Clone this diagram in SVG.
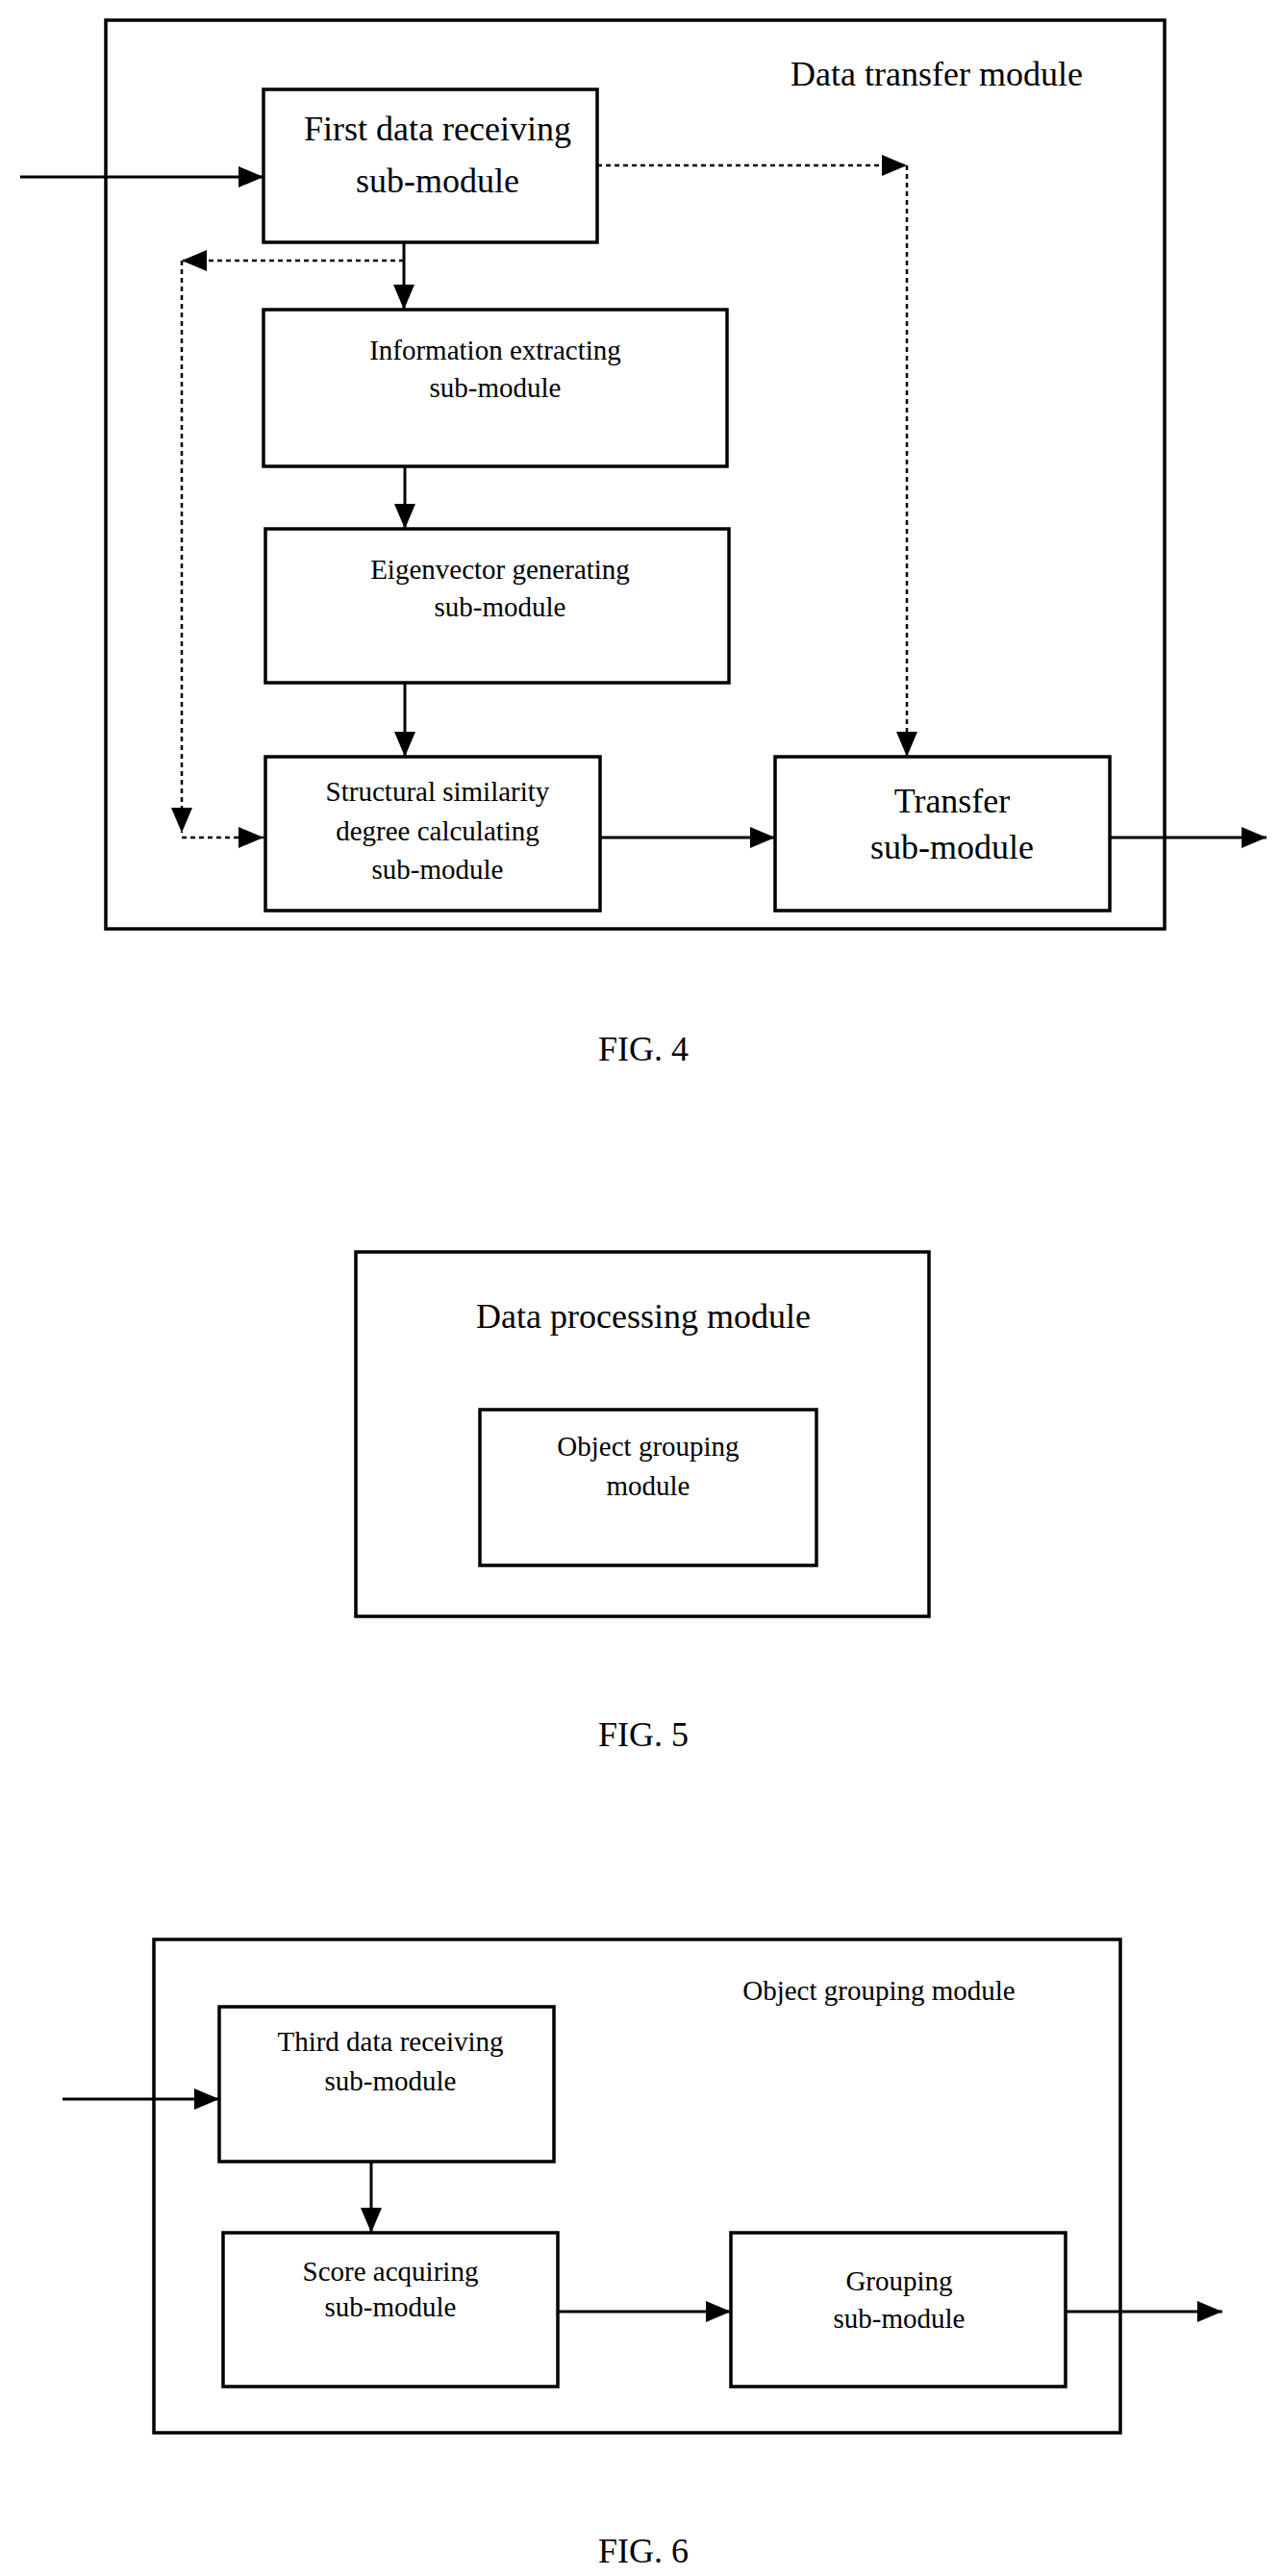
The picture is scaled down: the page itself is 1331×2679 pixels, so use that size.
<svg xmlns="http://www.w3.org/2000/svg" width="1331" height="2679" viewBox="0 0 1331 2679">
<style>
.b{fill:#fff;stroke:#000;stroke-width:3.5}
.t{font-family:"Liberation Serif",serif;fill:#000;text-anchor:middle}
.l{font-size:36px}.s{font-size:29px}
.c{fill:none;stroke:#000;stroke-width:3}
.d{fill:none;stroke:#000;stroke-width:2.5;stroke-dasharray:5,4}
</style>
<defs>
<marker id="a" markerWidth="10" markerHeight="10" refX="9" refY="5" orient="auto" markerUnits="userSpaceOnUse" viewBox="0 0 10 10"><path d="M0,0L10,5L0,10z"/></marker>
<marker id="A" markerWidth="26" markerHeight="22" refX="26" refY="11" orient="auto" markerUnits="userSpaceOnUse"><path d="M0,0L26,11L0,22z"/></marker>
</defs>
<rect width="1331" height="2679" fill="#fff"/>
<g id="fig4">
<rect class="b" x="110" y="21" width="1101" height="945"/>
<text class="t l" x="974" y="89">Data transfer module</text>
</g>
<g id="n-first"><rect class="b" x="274" y="93" width="347" height="159"/><text class="t l" x="455" y="146">First data receiving</text><text class="t l" x="455" y="200">sub-module</text></g>
<g id="n-info"><rect class="b" x="274" y="322" width="482" height="163"/><text class="t s" x="515" y="374">Information extracting</text><text class="t s" x="515" y="413">sub-module</text></g>
<g id="n-eigen"><rect class="b" x="276" y="550" width="482" height="160"/><text class="t s" x="520" y="602">Eigenvector generating</text><text class="t s" x="520" y="641">sub-module</text></g>
<g id="n-struct"><rect class="b" x="276" y="787" width="348" height="160"/><text class="t s" x="455" y="833">Structural similarity</text><text class="t s" x="455" y="874">degree calculating</text><text class="t s" x="455" y="914">sub-module</text></g>
<g id="n-transfer"><rect class="b" x="806" y="787" width="348" height="160"/><text class="t l" x="990" y="845">Transfer</text><text class="t l" x="990" y="893">sub-module</text></g>
<g id="connectors4">
<line class="c" x1="21" y1="184" x2="274" y2="184" marker-end="url(#A)"/>
<line class="c" x1="420" y1="252" x2="420" y2="322" marker-end="url(#A)"/>
<line class="c" x1="421" y1="485" x2="421" y2="550" marker-end="url(#A)"/>
<line class="c" x1="421" y1="710" x2="421" y2="787" marker-end="url(#A)"/>
<line class="c" x1="624" y1="871" x2="806" y2="871" marker-end="url(#A)"/>
<line class="c" x1="1154" y1="871" x2="1317" y2="871" marker-end="url(#A)"/>
<polyline class="d" points="621,172 943,172" marker-end="url(#A)"/>
<polyline class="d" points="943,172 943,787" marker-end="url(#A)"/>
<polyline class="d" points="420,271 189,271" marker-end="url(#A)"/>
<polyline class="d" points="189,271 189,866" marker-end="url(#A)"/>
<polyline class="d" points="189,871 274,871" marker-end="url(#A)"/>
</g>
<text class="t l" x="669" y="1103">FIG. 4</text>
<g id="fig5"><rect class="b" x="370" y="1302" width="596" height="379"/><text class="t l" x="669" y="1381">Data processing module</text></g>
<g id="n-objgroup"><rect class="b" x="499" y="1466" width="350" height="162"/><text class="t s" x="674" y="1514">Object grouping</text><text class="t s" x="674" y="1555">module</text></g>
<text class="t l" x="669" y="1816">FIG. 5</text>
<g id="fig6"><rect class="b" x="160" y="2017" width="1005" height="513"/><text class="t s" x="914" y="2080">Object grouping module</text></g>
<g id="n-third"><rect class="b" x="228" y="2087" width="348" height="161"/><text class="t s" x="406" y="2133">Third data receiving</text><text class="t s" x="406" y="2174">sub-module</text></g>
<g id="n-score"><rect class="b" x="232" y="2322" width="348" height="160"/><text class="t s" x="406" y="2372">Score acquiring</text><text class="t s" x="406" y="2409">sub-module</text></g>
<g id="n-grouping"><rect class="b" x="760" y="2322" width="348" height="160"/><text class="t s" x="935" y="2382">Grouping</text><text class="t s" x="935" y="2421">sub-module</text></g>
<g id="connectors6">
<line class="c" x1="65" y1="2183" x2="228" y2="2183" marker-end="url(#A)"/>
<line class="c" x1="386" y1="2248" x2="386" y2="2322" marker-end="url(#A)"/>
<line class="c" x1="580" y1="2404" x2="760" y2="2404" marker-end="url(#A)"/>
<line class="c" x1="1108" y1="2404" x2="1271" y2="2404" marker-end="url(#A)"/>
</g>
<text class="t l" x="669" y="2665">FIG. 6</text>
</svg>
